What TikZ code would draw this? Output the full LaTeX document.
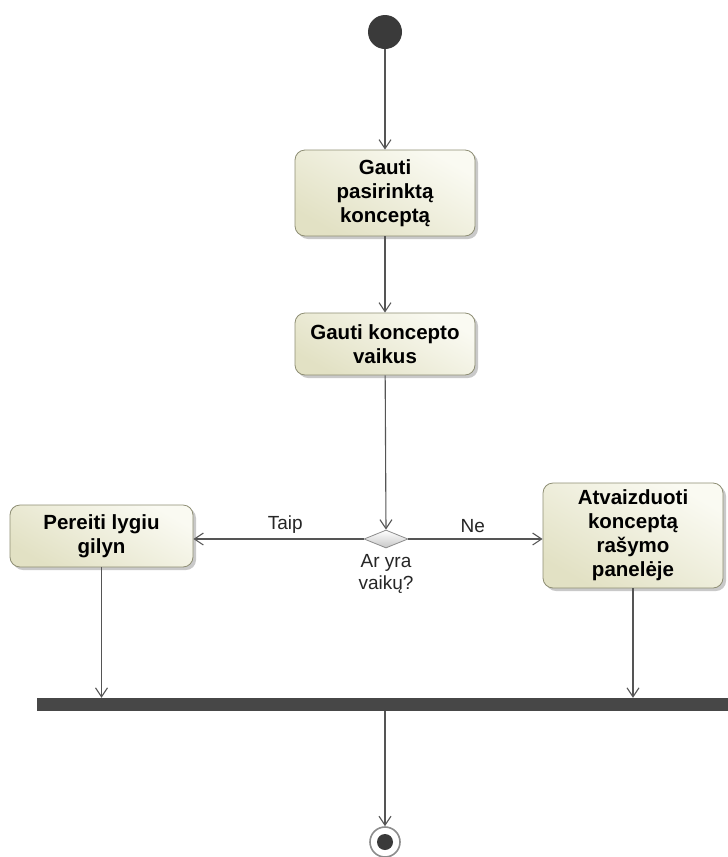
\documentclass[tikz,border=0pt]{standalone}
\usepackage{fontspec}
\setmainfont{Liberation Sans}
\usetikzlibrary{arrows.meta,shapes.geometric,shadows}
\definecolor{linegray}{HTML}{555555}
\definecolor{boxedge}{HTML}{8E8E74}
\definecolor{boxlight}{HTML}{FAFAF2}
\definecolor{boxdark}{HTML}{E2E1C4}
\definecolor{darkdot}{HTML}{3A3A3A}
\tikzset{
  action/.style={rectangle, rounded corners=10pt, draw=boxedge, line width=0.8pt,
    left color=boxlight, right color=boxdark, shading angle=-30,
    drop shadow={shadow xshift=3pt, shadow yshift=-3pt, fill=black!35, opacity=0.6},
    align=center, font=\fontsize{20.5}{24}\selectfont\bfseries, inner sep=2pt},
  flow/.style={draw=linegray, line width=1.1pt,
    -{Straight Barb[length=9pt, width=12pt, line width=1.1pt]}},
  lbl/.style={font=\fontsize{19}{22}\selectfont, text=black!85},
}
\begin{document}
\begin{tikzpicture}[x=1pt, y=-1pt]
\useasboundingbox (0,0) rectangle (728,857);
\fill[white] (0,0) rectangle (728,857);

% start node
\node[circle, fill=darkdot, minimum size=34pt, inner sep=0pt] (start) at (385,32) {};

% actions
\node[action, minimum width=180pt, minimum height=86pt] (get) at (385,193)
  {Gauti\\pasirinktą\\konceptą};
\node[action, minimum width=180pt, minimum height=62pt] (kids) at (385,344)
  {Gauti koncepto\\vaikus};
\node[action, minimum width=183pt, minimum height=62pt] (deeper) at (101.5,536)
  {Pereiti lygiu\\gilyn};
\node[action, minimum width=180pt, minimum height=105pt] (show) at (633,535.5)
  {Atvaizduoti\\konceptą\\rašymo\\panelėje};

% decision
\node[diamond, draw=black!45, line width=0.8pt, top color=white, bottom color=black!22,
  minimum width=44pt, minimum height=18pt, inner sep=0pt] (dec) at (386,539) {};
\node[lbl, align=center] (declbl) at (386,574) {Ar yra\\vaikų?};

% join bar
\node[rectangle, fill=black!72, minimum width=691pt, minimum height=13pt, inner sep=0pt]
  (bar) at (382.5,704.5) {};

% final node
\node[circle, draw=black!45, line width=1.6pt, fill=white, minimum size=30pt, inner sep=0pt]
  (final) at (385,842) {};
\node[circle, fill=darkdot, minimum size=16pt, inner sep=0pt] (finaldot) at (final) {};

% connectors
\draw[flow] (start) -- (get);
\draw[flow] (get) -- (kids);
\draw[flow] (kids) -- (dec.north);
\draw[flow] (dec.west) -- node[lbl, above=2pt, pos=0.46] (yes) {Taip} (dec.west -| deeper.east);
\draw[flow] (dec.east) -- node[lbl, above=2pt, pos=0.48] (no) {Ne} (dec.east -| show.west);
\draw[flow] (deeper.south) -- (deeper.south |- bar.north);
\draw[flow] (show.south) -- (show.south |- bar.north);
\draw[flow] (bar.south -| final) -- (final.north);
\end{tikzpicture}
\end{document}
